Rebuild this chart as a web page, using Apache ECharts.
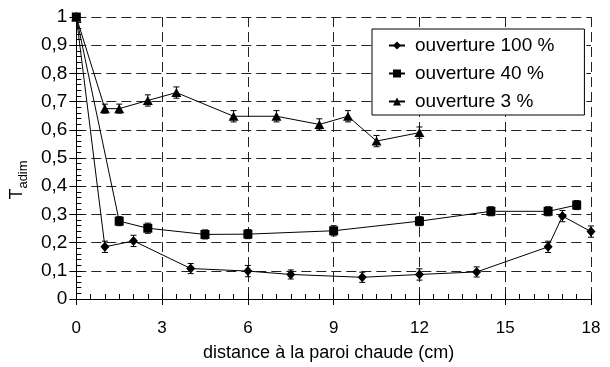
<!DOCTYPE html>
<html><head><meta charset="utf-8">
<script src="https://cdn.jsdelivr.net/npm/echarts@6/dist/echarts.min.js"></script>
<style>html,body{margin:0;padding:0;background:#fff}#c{width:610px;height:367px}</style>
</head><body><div id="c"></div>
<script>
var seriesNames = ['ouverture 100 %', 'ouverture 40 %', 'ouverture 3 %'];
var x100 = [0, 1, 2, 4, 6, 7.5, 10, 12, 14, 16.5, 17, 18];
var y100 = [1, 0.185, 0.206, 0.108, 0.099, 0.087, 0.077, 0.087, 0.096, 0.185, 0.294, 0.239];
var e100 = [0, 0.02, 0.02, 0.018, 0.02, 0.016, 0.018, 0.02, 0.018, 0.02, 0.02, 0.02];
var x40 = [0, 1.5, 2.5, 4.5, 6, 9, 12, 14.5, 16.5, 17.5];
var y40 = [1, 0.276, 0.251, 0.229, 0.23, 0.242, 0.276, 0.311, 0.311, 0.333];
var e40 = [0, 0.016, 0.018, 0.016, 0.016, 0.018, 0.016, 0.016, 0.016, 0.016];
var x3 = [0, 1, 1.5, 2.5, 3.5, 5.5, 7, 8.5, 9.5, 10.5, 12];
var y3 = [1, 0.675, 0.675, 0.704, 0.732, 0.648, 0.648, 0.619, 0.648, 0.56, 0.59];
var e3 = [0, 0.016, 0.016, 0.02, 0.02, 0.02, 0.02, 0.02, 0.02, 0.02, 0.02];
var xTicks = [0, 3, 6, 9, 12, 15, 18];
var xTitle = 'distance à la paroi chaude (cm)';

function pts(xs, ys) { return xs.map(function (x, i) { return [x, ys[i]]; }); }
function errPts(xs, ys, es) { return xs.map(function (x, i) { return [x, ys[i] - es[i], ys[i] + es[i]]; }); }

function errRender(params, api) {
  var x = api.value(0), lo = api.value(1), hi = api.value(2);
  if (hi - lo <= 0) return null;
  var p1 = api.coord([x, lo]), p2 = api.coord([x, hi]);
  var w = 3;
  var st = { stroke: '#000', lineWidth: 1 };
  return { type: 'group', children: [
    { type: 'line', shape: { x1: p1[0], y1: p1[1], x2: p2[0], y2: p2[1] }, style: st },
    { type: 'line', shape: { x1: p1[0] - w, y1: p1[1], x2: p1[0] + w, y2: p1[1] }, style: st },
    { type: 'line', shape: { x1: p2[0] - w, y1: p2[1], x2: p2[0] + w, y2: p2[1] }, style: st }
  ]};
}

var font = 'Liberation Sans, Arial, sans-serif';
var chart = echarts.init(document.getElementById('c'), null, { renderer: 'canvas' });
var gridLine = { show: true, lineStyle: { color: '#222', type: [10, 5], width: 1 } };

chart.setOption({
  animation: false,
  backgroundColor: '#fff',
  grid: { left: 76, right: 19, top: 17, bottom: 66, containLabel: false },
  legend: {
    orient: 'vertical', left: 372, top: 29,
    data: seriesNames,
    backgroundColor: '#fff', borderColor: '#000', borderWidth: 1,
    padding: [7, 30, 4, 16], itemGap: 9, itemWidth: 16, itemHeight: 10,
    textStyle: { fontFamily: font, fontSize: 19, color: '#000', padding: [0, 0, 0, 5], lineHeight: 18 }
  },
  xAxis: [
    { type: 'value', min: 0, max: 18, interval: 3, position: 'bottom',
      name: xTitle, nameLocation: 'middle', nameGap: 45,
      nameTextStyle: { fontFamily: font, fontSize: 18, color: '#000', padding: [0, 10, 0, 0] },
      axisLine: { show: true, onZero: false, lineStyle: { color: '#000', width: 1 } },
      axisTick: { show: true, inside: false, length: 6, lineStyle: { color: '#000' } },
      axisLabel: { fontFamily: font, fontSize: 17, color: '#000', margin: 21,
        customValues: xTicks },
      splitLine: gridLine },
    { type: 'value', min: 0, max: 18, interval: 3, position: 'bottom',
      axisLine: { show: false },
      axisTick: { show: true, inside: true, length: 5, lineStyle: { color: '#000' } },
      minorTick: { show: true, splitNumber: 6, length: 5, lineStyle: { color: '#000' } },
      axisLabel: { show: false }, splitLine: { show: false } },
    { type: 'value', min: 0, max: 18, interval: 3, position: 'top',
      axisLine: { show: true, lineStyle: { color: '#000', width: 1 } },
      axisTick: { show: false }, axisLabel: { show: false }, splitLine: { show: false } }
  ],
  yAxis: [
    { type: 'value', min: 0, max: 1, interval: 0.1, position: 'left',
      name: '{t|T}{s|adim}', nameLocation: 'middle', nameGap: 42, nameRotate: 90,
      nameTextStyle: { fontFamily: font, color: '#000', padding: [0, 44, 0, 0],
        rich: { t: { fontFamily: font, fontSize: 18, color: '#000', lineHeight: 22, verticalAlign: 'top' },
                s: { fontFamily: font, fontSize: 13, color: '#000', lineHeight: 22, verticalAlign: 'bottom', padding: [8, 0, 0, 0] } } },
      axisLine: { show: true, onZero: false, lineStyle: { color: '#000', width: 1 } },
      axisTick: { show: true, inside: false, length: 6, lineStyle: { color: '#000' } },
      axisLabel: { fontFamily: font, fontSize: 19, color: '#000', margin: 9,
        formatter: function (v) { return String(Math.round(v * 10) / 10).replace('.', ','); } },
      splitLine: gridLine },
    { type: 'value', min: 0, max: 1, interval: 0.1, position: 'left',
      axisLine: { show: false },
      axisTick: { show: true, inside: true, length: 6, lineStyle: { color: '#000' } },
      minorTick: { show: true, splitNumber: 5, length: 5, lineStyle: { color: '#000' } },
      axisLabel: { show: false }, splitLine: { show: false } },
    { type: 'value', min: 0, max: 1, interval: 0.1, position: 'right',
      axisLine: { show: true, lineStyle: { color: '#000', width: 1 } },
      axisTick: { show: true, inside: true, length: 7, lineStyle: { color: '#000' } },
      axisLabel: { show: false }, splitLine: { show: false } }
  ],
  series: [
    { name: seriesNames[0], type: 'line', data: pts(x100, y100), symbol: 'diamond', symbolSize: [9, 10],
      itemStyle: { color: '#000' }, lineStyle: { color: '#000', width: 1 }, clip: false, z: 5 },
    { name: seriesNames[1], type: 'line', data: pts(x40, y40), symbol: 'rect', symbolSize: 9,
      itemStyle: { color: '#000' }, lineStyle: { color: '#000', width: 1 }, clip: false, z: 5 },
    { name: seriesNames[2], type: 'line', data: pts(x3, y3), symbol: 'triangle', symbolSize: [10, 9],
      itemStyle: { color: '#000' }, lineStyle: { color: '#000', width: 1 }, clip: false, z: 5 },
    { type: 'custom', renderItem: errRender, data: errPts(x100, y100, e100), encode: { x: 0, y: [1, 2] }, z: 4, clip: false },
    { type: 'custom', renderItem: errRender, data: errPts(x40, y40, e40), encode: { x: 0, y: [1, 2] }, z: 4, clip: false },
    { type: 'custom', renderItem: errRender, data: errPts(x3, y3, e3), encode: { x: 0, y: [1, 2] }, z: 4, clip: false }
  ]
});
</script></body></html>
